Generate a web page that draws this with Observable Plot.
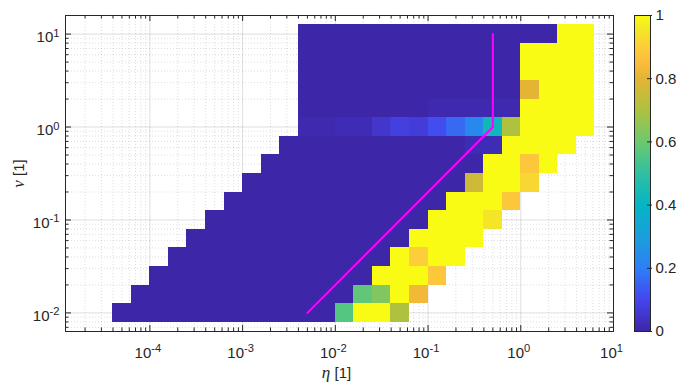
<!DOCTYPE html>
<html><head><meta charset="utf-8">
<script src="https://cdn.jsdelivr.net/npm/d3@7"></script>
<script src="https://cdn.jsdelivr.net/npm/@observablehq/plot@0.6"></script>
<style>
html,body{margin:0;padding:0;background:#fff;}
#wrap{position:relative;width:678px;height:384px;overflow:hidden;}
#main{position:absolute;left:0;top:0;}
#cbar{position:absolute;left:628px;top:0;}
</style></head><body><div id="wrap"><div id="main"></div><div id="cbar"></div></div>
<script>
// column centres, log10(eta)
const logEta = [-4.3,-4.1,-3.9,-3.7,-3.5,-3.3,-3.1,-2.9,-2.7,-2.5,-2.3,-2.1,-1.9,-1.7,-1.5,-1.3,-1.1,-0.9,-0.7,-0.5,-0.3,-0.1,0.1,0.3,0.5,0.7];
// row centres, log10(nu), top to bottom
const logNu = [1.0,0.8,0.6,0.4,0.2,0.0,-0.2,-0.4,-0.6,-0.8,-1.0,-1.2,-1.4,-1.6,-1.8,-2.0];
// first filled column of each row
const firstCol = [10,10,10,10,10,10,9,8,7,6,5,4,3,2,1,0];
// 16 filled cells per row
const fraction = [
 [0,0,0,0,0,0,0,0,0,0,0,0,0,0,1,1],
 [0,0,0,0,0,0,0,0,0,0,0,0,1,1,1,1],
 [0,0,0,0,0,0,0,0,0,0,0,0,1,1,1,1],
 [0,0,0,0,0,0,0,0,0,0,0,0,0.8,1,1,1],
 [0,0,0,0,0,0,0,0.01,0.01,0.01,0.01,0.01,1,1,1,1],
 [0.01,0.01,0.02,0.02,0.05,0.08,0.07,0.11,0.16,0.23,0.43,0.7,1,1,1,1],
 [0,0,0,0,0,0,0,0,0,0,0.02,0.02,1,1,1,1],
 [0,0,0,0,0,0,0,0,0,0,0,0,1,1,0.88,1],
 [0,0,0,0,0,0,0,0,0,0,0,0,0.76,1,1,0.92],
 [0,0,0,0,0,0,0,0,0,0,0,0,1,1,1,0.88],
 [0,0,0,0,0,0,0,0,0,0,0,0,1,1,1,0.95],
 [0,0,0,0,0,0,0,0,0,0,0,0,1,1,1,1],
 [0,0,0,0,0,0,0,0,0,0,0,0,1,0.9,1,1],
 [0,0,0,0,0,0,0,0,0,0,0,0,1,1,1,0.88],
 [0,0,0,0,0,0,0,0,0,0,0,0,0.58,0.63,1,0.83],
 [0,0,0,0,0,0,0,0,0,0,0,0,0.56,1,1,0.7]
];
// magenta boundary line
const lineEta = [0.005, 0.5, 0.5];
const lineNu = [0.01, 1, 10];
// ticks
const xMajor = [1e-4,1e-3,1e-2,1e-1,1,10];
const xMajorLabels = ["-4","-3","-2","-1","0","1"];
const yMajor = [1e-2,1e-1,1,10];
const yMajorLabels = ["-2","-1","0","1"];
const cbTicks = [0,0.2,0.4,0.6,0.8,1];
const cbTickLabels = ["0","0.2","0.4","0.6","0.8","1"];
// parula-like colour map
const parulaStops = [0,0.1,0.2,0.3,0.4,0.5,0.6,0.7,0.8,0.85,0.9,0.95,1];
const parulaColors = ["#3e26a8","#4546ee","#2d80f6","#1a9fdc","#05b5c4","#30c0a0","#6ec86e","#aec240","#e4b434","#fbbc3c","#fcce3a","#f4e526","#f9fb15"];

const W=678,H=384,mL=65,mR=65,mT=15,mB=53;
const innerH=H-mT-mB;
const xDomain=[10**-4.91,10], yDomain=[10**-2.2,10**1.2];
const font='"Liberation Sans", Helvetica, Arial, sans-serif';
const ink="#262626";
function minors(lo,hi){const out=[];for(let d=Math.floor(Math.log10(lo));d<=Math.ceil(Math.log10(hi));d++)for(let k=2;k<=9;k++){const v=k*10**d;if(v>lo&&v<hi)out.push(v);}return out;}
const xMinor=minors(...xDomain), yMinor=minors(...yDomain);

const cells=[];
logNu.forEach((ln,r)=>fraction[r].forEach((v,p)=>{const le=logEta[firstCol[r]+p];
  cells.push({x1:10**(le-0.1),x2:10**(le+0.1),y1:10**(ln-0.1),y2:10**(ln+0.1),v});}));
const linePts=lineEta.map((e,i)=>({e,n:lineNu[i]}));

const colorScale={type:"linear",domain:parulaStops,range:parulaColors,interpolate:"rgb",clamp:true};

const main=Plot.plot({
  width:W,height:H,marginLeft:mL,marginRight:mR,marginTop:mT,marginBottom:mB,
  style:{fontFamily:font,background:"white",overflow:"visible"},
  x:{type:"log",domain:xDomain,axis:null},
  y:{type:"log",domain:yDomain,axis:null},
  color:colorScale,
  marks:[
    Plot.ruleX(xMinor,{x:d=>d,stroke:ink,strokeOpacity:0.22,strokeDasharray:"1,2",strokeWidth:0.7}),
    Plot.ruleY(yMinor,{y:d=>d,stroke:ink,strokeOpacity:0.22,strokeDasharray:"1,2",strokeWidth:0.7}),
    Plot.ruleX(xMajor,{x:d=>d,stroke:ink,strokeOpacity:0.15,strokeWidth:1}),
    Plot.ruleY(yMajor,{y:d=>d,stroke:ink,strokeOpacity:0.15,strokeWidth:1}),
    Plot.rect(cells,{x1:"x1",x2:"x2",y1:"y1",y2:"y2",fill:"v",shapeRendering:"crispEdges"}),
    Plot.line(linePts,{x:"e",y:"n",stroke:"#ff00ff",strokeWidth:2}),
    Plot.frame({stroke:ink,strokeWidth:1}),
    // inward ticks on all four sides
    Plot.ruleX(xMajor,{x:d=>d,insetTop:innerH-6,stroke:ink}),
    Plot.ruleX(xMajor,{x:d=>d,insetBottom:innerH-6,stroke:ink}),
    Plot.ruleX(xMinor,{x:d=>d,insetTop:innerH-3.5,stroke:ink}),
    Plot.ruleX(xMinor,{x:d=>d,insetBottom:innerH-3.5,stroke:ink}),
    Plot.ruleY(yMajor,{y:d=>d,insetRight:W-mL-mR-6,stroke:ink}),
    Plot.ruleY(yMajor,{y:d=>d,insetLeft:W-mL-mR-6,stroke:ink}),
    Plot.ruleY(yMinor,{y:d=>d,insetRight:W-mL-mR-3.5,stroke:ink}),
    Plot.ruleY(yMinor,{y:d=>d,insetLeft:W-mL-mR-3.5,stroke:ink}),
    Plot.text(xMajor,{x:d=>d,text:(d,i)=>"10^"+xMajorLabels[i],frameAnchor:"bottom",lineAnchor:"bottom",dy:26,dx:-2,fontSize:15,fill:ink}),
    Plot.text(yMajor,{y:d=>d,text:(d,i)=>"10^"+yMajorLabels[i],frameAnchor:"left",textAnchor:"end",lineAnchor:"bottom",dx:-6,dy:8,fontSize:15,fill:ink}),
    Plot.text(["η [1]"],{text:d=>d,frameAnchor:"bottom",lineAnchor:"bottom",dy:46,dx:-3,fontSize:15,fill:ink}),
    Plot.text(["ν [1]"],{text:d=>d,frameAnchor:"left",rotate:-90,dx:-42,textAnchor:"middle",lineAnchor:"bottom",fontSize:15,fill:ink})
  ]
});
document.getElementById("main").appendChild(main);

const step=0.0025;
const bands=d3.range(0,1,step);
const cbar=Plot.plot({
  width:50,height:H,marginLeft:6,marginRight:28,marginTop:mT,marginBottom:mB,
  style:{fontFamily:font,background:"transparent",overflow:"visible"},
  x:{domain:[0,1],axis:null},
  y:{domain:[0,1],axis:null},
  color:colorScale,
  marks:[
    Plot.rect(bands,{x1:0,x2:1,y1:d=>d,y2:d=>Math.min(1,d+step*1.5),fill:d=>d+step/2,shapeRendering:"crispEdges"}),
    Plot.frame({stroke:ink,strokeWidth:1}),
    Plot.ruleY(cbTicks,{y:d=>d,insetLeft:13,insetRight:-2,stroke:ink}),
    Plot.text(cbTicks,{y:d=>d,text:(d,i)=>cbTickLabels[i],frameAnchor:"right",textAnchor:"start",dx:5,fontSize:15,fill:ink})
  ]
});
document.getElementById("cbar").appendChild(cbar);

const ns="http://www.w3.org/2000/svg";
main.querySelectorAll("text").forEach(t=>{
  const txt=t.textContent;
  if(txt.includes("^")){
    const [b,e]=txt.split("^");
    t.textContent="";
    const a=document.createElementNS(ns,"tspan");a.textContent=b;t.appendChild(a);
    const s=document.createElementNS(ns,"tspan");s.setAttribute("dy","-5.5");s.setAttribute("font-size","11.2");s.textContent=e;t.appendChild(s);
  } else if(txt.startsWith("η")||txt.startsWith("ν")){
    t.textContent="";
    const a=document.createElementNS(ns,"tspan");a.textContent=txt[0];a.setAttribute("font-family",'"Liberation Serif","DejaVu Serif",serif');a.setAttribute("font-style","italic");a.setAttribute("font-size","17");t.appendChild(a);
    const s=document.createElementNS(ns,"tspan");s.textContent=txt.slice(1);t.appendChild(s);
  }
});
</script></body></html>
